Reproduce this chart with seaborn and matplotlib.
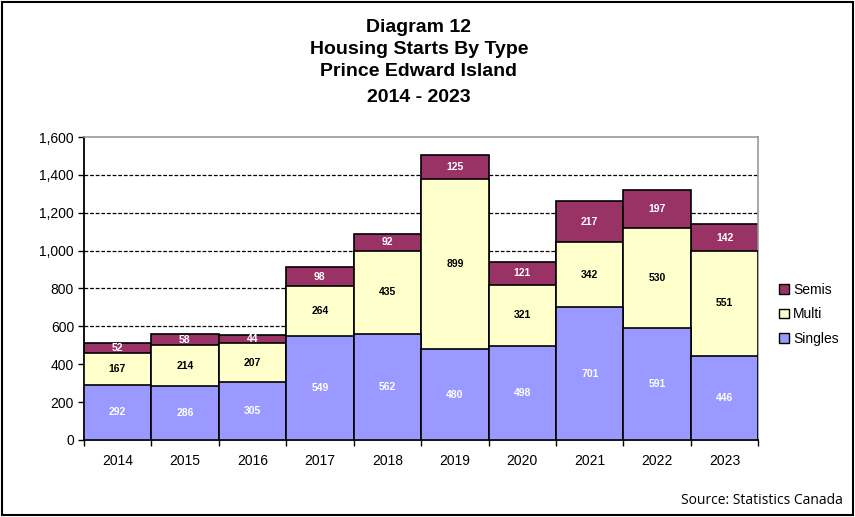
import numpy as np
import pandas as pd
import matplotlib
matplotlib.use("Agg")
import matplotlib.pyplot as plt
from matplotlib.patches import Patch, Rectangle
from matplotlib.ticker import FuncFormatter, FixedLocator
import seaborn as sns

# Data
years = ["2014", "2015", "2016", "2017", "2018", "2019", "2020", "2021", "2022", "2023"]
singles = [292, 286, 305, 549, 562, 480, 498, 701, 591, 446]
multi = [167, 214, 207, 264, 435, 899, 321, 342, 530, 551]
semis = [52, 58, 44, 98, 92, 125, 121, 217, 197, 142]

c_singles = "#9999FF"
c_multi = "#FFFFCC"
c_semis = "#993366"

df = pd.DataFrame({"year": years, "Singles": singles, "Multi": multi, "Semis": semis})
df["lower2"] = df["Singles"] + df["Multi"]
df["total"] = df["lower2"] + df["Semis"]

sns.set_style("white")
plt.rcParams["font.family"] = ["Liberation Sans", "DejaVu Sans"]
plt.rcParams["text.color"] = "black"
plt.rcParams["xtick.color"] = "black"
plt.rcParams["ytick.color"] = "black"
plt.rcParams["axes.labelcolor"] = "black"

fig = plt.figure(figsize=(8.55, 5.17), dpi=100)
ax = fig.add_axes([0.098, 0.149, 0.789, 0.586])

# dashed grid behind bars
for v in range(200, 1600, 200):
    ax.axhline(v, color="black", lw=0.9, ls=(0, (3, 1.5)), zorder=0)

# stacked bars drawn as overlapping totals
sns.barplot(data=df, x="year", y="total", color=c_semis, width=1.0, saturation=1,
            edgecolor="black", linewidth=1.2, ax=ax, zorder=2)
sns.barplot(data=df, x="year", y="lower2", color=c_multi, width=1.0, saturation=1,
            edgecolor="black", linewidth=1.2, ax=ax, zorder=3)
sns.barplot(data=df, x="year", y="Singles", color=c_singles, width=1.0, saturation=1,
            edgecolor="black", linewidth=1.2, ax=ax, zorder=4)

# value labels
for i, row in df.iterrows():
    ax.text(i, row["Singles"] / 2, str(row["Singles"]), ha="center", va="center",
            color="white", fontsize=7.5, fontweight="bold", zorder=5)
    ax.text(i, row["Singles"] + row["Multi"] / 2, str(row["Multi"]), ha="center",
            va="center", color="black", fontsize=7.5, fontweight="bold", zorder=5)
    ax.text(i, row["lower2"] + row["Semis"] / 2, str(row["Semis"]), ha="center",
            va="center", color="white", fontsize=7.5, fontweight="bold", zorder=5)

ax.set_xlim(-0.5, len(years) - 0.5)
ax.set_ylim(0, 1600)
ax.set_yticks(range(0, 1601, 200))
ax.yaxis.set_major_formatter(FuncFormatter(lambda v, p: f"{int(v):,}"))
ax.set_xlabel("")
ax.set_ylabel("")

ax.xaxis.set_minor_locator(FixedLocator(np.arange(-0.5, len(years), 1.0)))
ax.tick_params(axis="x", which="major", length=0, labelsize=10, pad=10)
ax.tick_params(axis="x", which="minor", length=4, width=1, color="black", direction="out", bottom=True)
ax.tick_params(axis="y", which="major", length=4, width=1, color="black", direction="out",
               left=True, labelsize=10, pad=3)

for s in ["left", "bottom"]:
    ax.spines[s].set_color("black")
    ax.spines[s].set_linewidth(1.3)
for s in ["top", "right"]:
    ax.spines[s].set_color("#999999")
    ax.spines[s].set_linewidth(1.2)
    ax.spines[s].set_visible(True)

# legend
handles = [Patch(facecolor=c_semis, edgecolor="black", label="Semis"),
           Patch(facecolor=c_multi, edgecolor="black", label="Multi"),
           Patch(facecolor=c_singles, edgecolor="black", label="Singles")]
fig.legend(handles=handles, loc="center left", bbox_to_anchor=(0.905, 0.392),
           frameon=False, fontsize=10, handlelength=0.7, handleheight=0.7,
           handletextpad=0.3, labelspacing=0.75, borderaxespad=0)

# title
title_lines = ["Diagram 12", "Housing Starts By Type", "Prince Edward Island", "2014 - 2023"]
title_y = [0.947, 0.905, 0.862, 0.812]
for t, y in zip(title_lines, title_y):
    fig.text(0.49, y, t, ha="center", va="center", fontsize=14, fontweight="bold")

fig.text(0.986, 0.032, "Source: Statistics Canada", ha="right", va="center",
         fontsize=10, family=["Open Sans", "DejaVu Sans"])

# outer frame
fig.patches.append(Rectangle((0.002, 0.003), 0.996, 0.994, transform=fig.transFigure,
                             fill=False, edgecolor="black", lw=1.5))

fig.savefig("out.png", dpi=100)
